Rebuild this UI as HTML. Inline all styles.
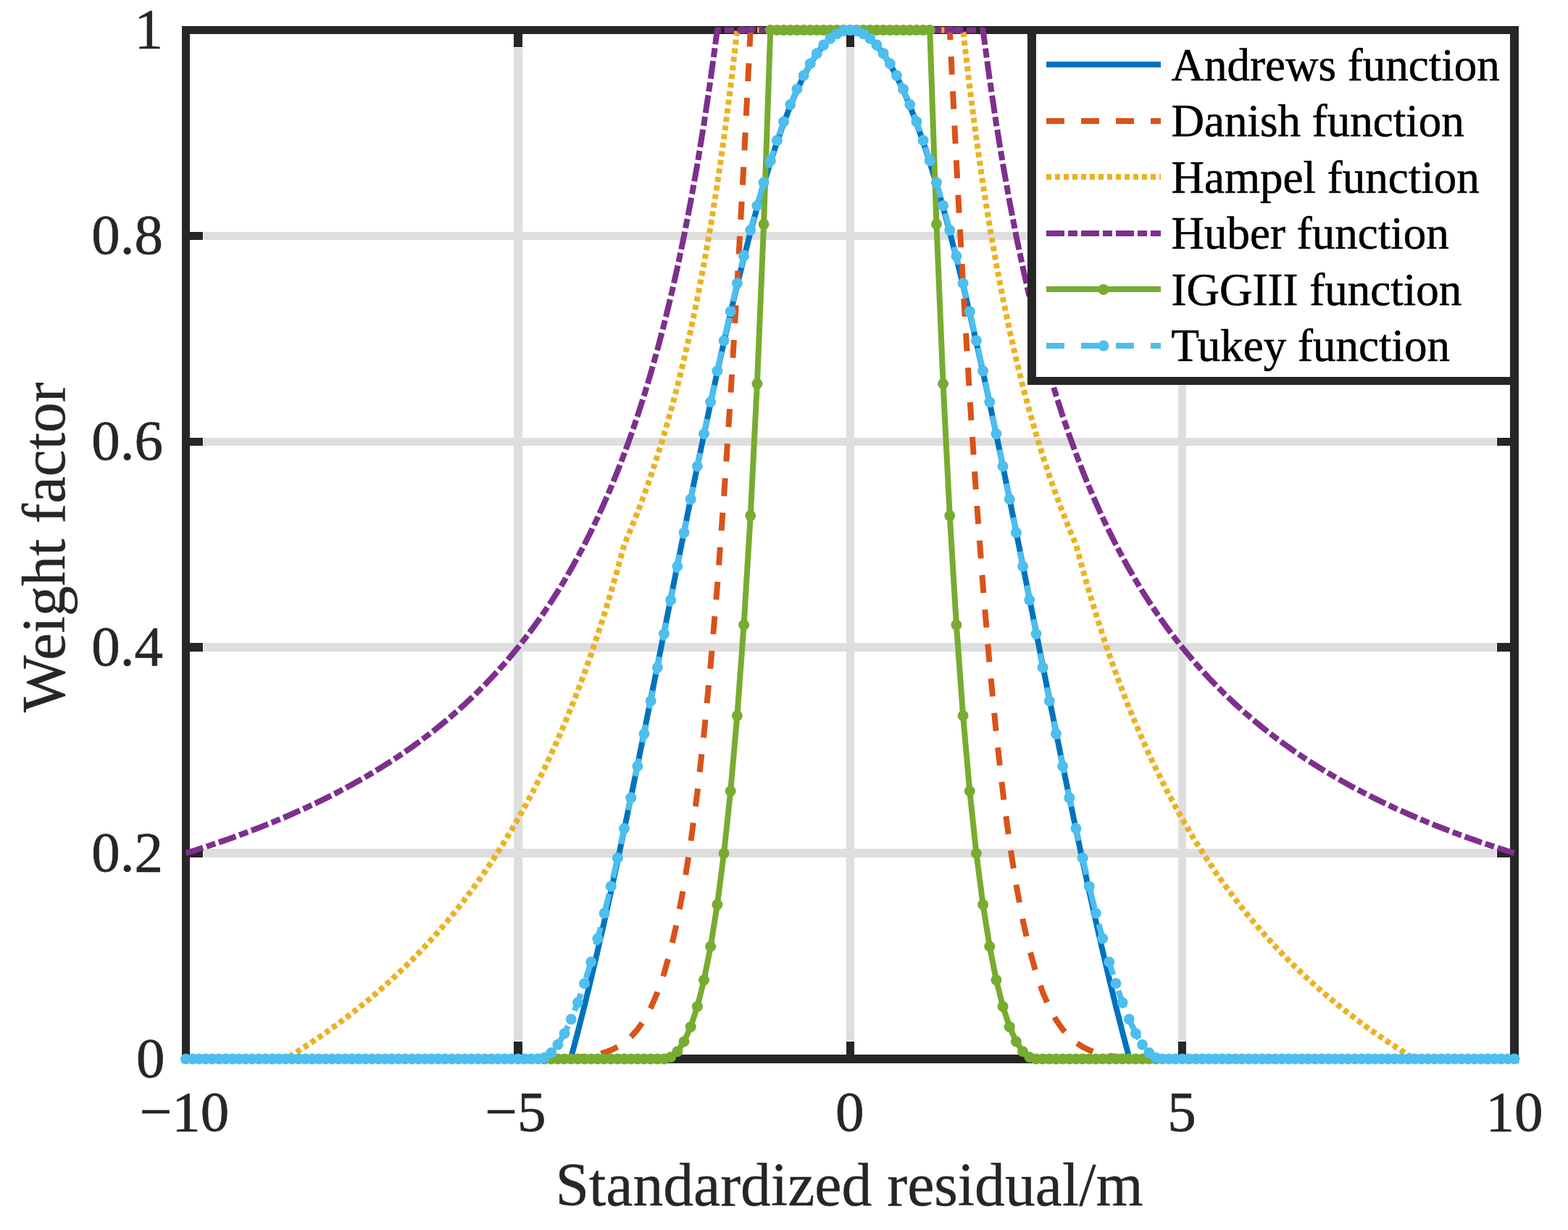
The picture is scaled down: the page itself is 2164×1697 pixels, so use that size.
<!DOCTYPE html>
<html><head><meta charset="utf-8"><title>Weight factor</title>
<style>html,body{margin:0;padding:0;background:#fff;}svg{display:block;}text{font-family:'Liberation Serif','Times New Roman',serif;}</style>
</head><body>
<svg width="2164" height="1697" viewBox="0 0 2164 1697">
<rect width="2164" height="1697" fill="#fff"/>
<path d="M714.88 66V1436M1173.25 66V1436M1631.62 66V1436M281 1177.10H2065M281 893.20H2065M281 609.30H2065M281 325.40H2065" stroke="#DEDEDE" stroke-width="11.5" fill="none" shape-rendering="crispEdges"/>
<path d="M714.88 1461.00V1437.10M714.88 41.50V65.00M1173.25 1461.00V1437.10M1173.25 41.50V65.00M1631.62 1461.00V1437.10M1631.62 41.50V65.00M256.50 1177.10H280.00M2090.00 1177.10H2066.10M256.50 893.20H280.00M2090.00 893.20H2066.10M256.50 609.30H280.00M2090.00 609.30H2066.10M256.50 325.40H280.00M2090.00 325.40H2066.10" stroke="#262626" stroke-width="11.5" fill="none" shape-rendering="crispEdges"/>
<rect x="256.5" y="41.5" width="1833.5" height="1419.5" stroke="#262626" stroke-width="11.5" fill="none" stroke-linejoin="miter" shape-rendering="crispEdges"/>
<polyline points="256.50,1461.00 265.67,1461.00 274.83,1461.00 284.00,1461.00 293.17,1461.00 302.34,1461.00 311.50,1461.00 320.67,1461.00 329.84,1461.00 339.01,1461.00 348.18,1461.00 357.34,1461.00 366.51,1461.00 375.68,1461.00 384.85,1461.00 394.01,1461.00 403.18,1461.00 412.35,1461.00 421.52,1461.00 430.68,1461.00 439.85,1461.00 449.02,1461.00 458.19,1461.00 467.35,1461.00 476.52,1461.00 485.69,1461.00 494.85,1461.00 504.02,1461.00 513.19,1461.00 522.36,1461.00 531.52,1461.00 540.69,1461.00 549.86,1461.00 559.03,1461.00 568.20,1461.00 577.36,1461.00 586.53,1461.00 595.70,1461.00 604.87,1461.00 614.03,1461.00 623.20,1461.00 632.37,1461.00 641.54,1461.00 650.70,1461.00 659.87,1461.00 669.04,1461.00 678.20,1461.00 687.37,1461.00 696.54,1461.00 705.71,1461.00 714.88,1461.00 724.04,1461.00 733.21,1461.00 742.38,1461.00 751.55,1461.00 760.71,1461.00 769.88,1461.00 779.05,1461.00 788.21,1458.77 797.38,1424.13 806.55,1387.98 815.72,1350.38 824.88,1311.44 834.05,1271.25 843.22,1229.91 852.39,1187.54 861.55,1144.25 870.72,1100.15 879.89,1055.37 889.06,1010.03 898.22,964.27 907.39,918.22 916.56,872.01 925.73,825.78 934.89,779.68 944.06,733.84 953.23,688.40 962.40,643.51 971.57,599.29 980.73,555.90 989.90,513.47 999.07,472.13 1008.23,432.02 1017.40,393.27 1026.57,355.99 1035.74,320.31 1044.90,286.36 1054.07,254.23 1063.24,224.03 1072.41,195.86 1081.58,169.82 1090.74,145.99 1099.91,124.46 1109.08,105.28 1118.24,88.53 1127.41,74.26 1136.58,62.52 1145.75,53.35 1154.91,46.77 1164.08,42.82 1173.25,41.50 1182.42,42.82 1191.59,46.77 1200.75,53.35 1209.92,62.52 1219.09,74.26 1228.26,88.53 1237.42,105.28 1246.59,124.46 1255.76,145.99 1264.93,169.82 1274.09,195.86 1283.26,224.03 1292.43,254.23 1301.60,286.36 1310.76,320.31 1319.93,355.99 1329.10,393.27 1338.27,432.02 1347.43,472.13 1356.60,513.47 1365.77,555.90 1374.93,599.29 1384.10,643.51 1393.27,688.40 1402.44,733.84 1411.61,779.68 1420.77,825.78 1429.94,872.01 1439.11,918.22 1448.28,964.27 1457.44,1010.03 1466.61,1055.37 1475.78,1100.15 1484.95,1144.25 1494.11,1187.54 1503.28,1229.91 1512.45,1271.25 1521.62,1311.44 1530.78,1350.38 1539.95,1387.98 1549.12,1424.13 1558.28,1458.77 1567.45,1461.00 1576.62,1461.00 1585.79,1461.00 1594.95,1461.00 1604.12,1461.00 1613.29,1461.00 1622.46,1461.00 1631.62,1461.00 1640.79,1461.00 1649.96,1461.00 1659.13,1461.00 1668.30,1461.00 1677.46,1461.00 1686.63,1461.00 1695.80,1461.00 1704.97,1461.00 1714.13,1461.00 1723.30,1461.00 1732.47,1461.00 1741.63,1461.00 1750.80,1461.00 1759.97,1461.00 1769.14,1461.00 1778.31,1461.00 1787.47,1461.00 1796.64,1461.00 1805.81,1461.00 1814.97,1461.00 1824.14,1461.00 1833.31,1461.00 1842.48,1461.00 1851.64,1461.00 1860.81,1461.00 1869.98,1461.00 1879.15,1461.00 1888.32,1461.00 1897.48,1461.00 1906.65,1461.00 1915.82,1461.00 1924.98,1461.00 1934.15,1461.00 1943.32,1461.00 1952.49,1461.00 1961.66,1461.00 1970.82,1461.00 1979.99,1461.00 1989.16,1461.00 1998.32,1461.00 2007.49,1461.00 2016.66,1461.00 2025.83,1461.00 2034.99,1461.00 2044.16,1461.00 2053.33,1461.00 2062.50,1461.00 2071.66,1461.00 2080.83,1461.00 2090.00,1461.00" fill="none" stroke="#0072BD" stroke-width="8.0" stroke-linejoin="round" stroke-linecap="butt"/>
<polyline points="256.50,1461.00 265.67,1461.00 274.83,1461.00 284.00,1461.00 293.17,1461.00 302.34,1461.00 311.50,1461.00 320.67,1461.00 329.84,1461.00 339.01,1461.00 348.18,1461.00 357.34,1461.00 366.51,1461.00 375.68,1461.00 384.85,1461.00 394.01,1461.00 403.18,1461.00 412.35,1461.00 421.52,1461.00 430.68,1461.00 439.85,1461.00 449.02,1461.00 458.19,1461.00 467.35,1461.00 476.52,1461.00 485.69,1461.00 494.85,1461.00 504.02,1461.00 513.19,1461.00 522.36,1461.00 531.52,1461.00 540.69,1461.00 549.86,1461.00 559.03,1461.00 568.20,1461.00 577.36,1461.00 586.53,1461.00 595.70,1461.00 604.87,1461.00 614.03,1461.00 623.20,1461.00 632.37,1461.00 641.54,1461.00 650.70,1461.00 659.87,1461.00 669.04,1460.99 678.20,1460.99 687.37,1460.99 696.54,1460.98 705.71,1460.96 714.88,1460.94 724.04,1460.91 733.21,1460.86 742.38,1460.79 751.55,1460.68 760.71,1460.52 769.88,1460.29 779.05,1459.96 788.21,1459.48 797.38,1458.80 806.55,1457.85 815.72,1456.53 824.88,1454.70 834.05,1452.21 843.22,1448.84 852.39,1444.33 861.55,1438.35 870.72,1430.49 879.89,1420.27 889.06,1407.11 898.22,1390.33 907.39,1369.14 916.56,1342.65 925.73,1309.88 934.89,1269.74 944.06,1221.09 953.23,1162.71 962.40,1093.42 971.57,1012.03 980.73,917.48 989.90,808.85 999.07,685.42 1008.23,546.79 1017.40,392.92 1026.57,224.20 1035.74,41.50 1044.90,41.50 1054.07,41.50 1063.24,41.50 1072.41,41.50 1081.58,41.50 1090.74,41.50 1099.91,41.50 1109.08,41.50 1118.24,41.50 1127.41,41.50 1136.58,41.50 1145.75,41.50 1154.91,41.50 1164.08,41.50 1173.25,41.50 1182.42,41.50 1191.59,41.50 1200.75,41.50 1209.92,41.50 1219.09,41.50 1228.26,41.50 1237.42,41.50 1246.59,41.50 1255.76,41.50 1264.93,41.50 1274.09,41.50 1283.26,41.50 1292.43,41.50 1301.60,41.50 1310.76,41.50 1319.93,224.20 1329.10,392.92 1338.27,546.79 1347.43,685.42 1356.60,808.85 1365.77,917.48 1374.93,1012.03 1384.10,1093.42 1393.27,1162.71 1402.44,1221.09 1411.61,1269.74 1420.77,1309.88 1429.94,1342.65 1439.11,1369.14 1448.28,1390.33 1457.44,1407.11 1466.61,1420.27 1475.78,1430.49 1484.95,1438.35 1494.11,1444.33 1503.28,1448.84 1512.45,1452.21 1521.62,1454.70 1530.78,1456.53 1539.95,1457.85 1549.12,1458.80 1558.28,1459.48 1567.45,1459.96 1576.62,1460.29 1585.79,1460.52 1594.95,1460.68 1604.12,1460.79 1613.29,1460.86 1622.46,1460.91 1631.62,1460.94 1640.79,1460.96 1649.96,1460.98 1659.13,1460.99 1668.30,1460.99 1677.46,1460.99 1686.63,1461.00 1695.80,1461.00 1704.97,1461.00 1714.13,1461.00 1723.30,1461.00 1732.47,1461.00 1741.63,1461.00 1750.80,1461.00 1759.97,1461.00 1769.14,1461.00 1778.31,1461.00 1787.47,1461.00 1796.64,1461.00 1805.81,1461.00 1814.97,1461.00 1824.14,1461.00 1833.31,1461.00 1842.48,1461.00 1851.64,1461.00 1860.81,1461.00 1869.98,1461.00 1879.15,1461.00 1888.32,1461.00 1897.48,1461.00 1906.65,1461.00 1915.82,1461.00 1924.98,1461.00 1934.15,1461.00 1943.32,1461.00 1952.49,1461.00 1961.66,1461.00 1970.82,1461.00 1979.99,1461.00 1989.16,1461.00 1998.32,1461.00 2007.49,1461.00 2016.66,1461.00 2025.83,1461.00 2034.99,1461.00 2044.16,1461.00 2053.33,1461.00 2062.50,1461.00 2071.66,1461.00 2080.83,1461.00 2090.00,1461.00" fill="none" stroke="#D95319" stroke-width="8.0" stroke-dasharray="24.885 22.894" stroke-linejoin="round" stroke-linecap="butt"/>
<polyline points="256.50,1461.00 265.67,1461.00 274.83,1461.00 284.00,1461.00 293.17,1461.00 302.34,1461.00 311.50,1461.00 320.67,1461.00 329.84,1461.00 339.01,1461.00 348.18,1461.00 357.34,1461.00 366.51,1461.00 375.68,1461.00 384.85,1461.00 394.01,1461.00 403.18,1455.37 412.35,1449.60 421.52,1443.69 430.68,1437.63 439.85,1431.43 449.02,1425.06 458.19,1418.54 467.35,1411.84 476.52,1404.97 485.69,1397.91 494.85,1390.66 504.02,1383.22 513.19,1375.57 522.36,1367.70 531.52,1359.61 540.69,1351.28 549.86,1342.71 559.03,1333.88 568.20,1324.79 577.36,1315.41 586.53,1305.74 595.70,1295.77 604.87,1285.47 614.03,1274.84 623.20,1263.85 632.37,1252.49 641.54,1240.73 650.70,1228.57 659.87,1215.97 669.04,1202.91 678.20,1189.37 687.37,1175.31 696.54,1160.72 705.71,1145.56 714.88,1129.78 724.04,1113.37 733.21,1096.27 742.38,1078.44 751.55,1059.84 760.71,1040.41 769.88,1020.09 779.05,998.84 788.21,976.57 797.38,953.21 806.55,928.69 815.72,902.91 824.88,875.77 834.05,847.16 843.22,816.97 852.39,785.05 861.55,751.25 870.72,729.74 879.89,706.89 889.06,682.56 898.22,656.62 907.39,628.88 916.56,599.16 925.73,567.24 934.89,532.87 944.06,495.74 953.23,455.52 962.40,411.80 971.57,364.11 980.73,311.88 989.90,254.42 999.07,190.92 1008.23,120.36 1017.40,41.50 1026.57,41.50 1035.74,41.50 1044.90,41.50 1054.07,41.50 1063.24,41.50 1072.41,41.50 1081.58,41.50 1090.74,41.50 1099.91,41.50 1109.08,41.50 1118.24,41.50 1127.41,41.50 1136.58,41.50 1145.75,41.50 1154.91,41.50 1164.08,41.50 1173.25,41.50 1182.42,41.50 1191.59,41.50 1200.75,41.50 1209.92,41.50 1219.09,41.50 1228.26,41.50 1237.42,41.50 1246.59,41.50 1255.76,41.50 1264.93,41.50 1274.09,41.50 1283.26,41.50 1292.43,41.50 1301.60,41.50 1310.76,41.50 1319.93,41.50 1329.10,41.50 1338.27,120.36 1347.43,190.92 1356.60,254.42 1365.77,311.88 1374.93,364.11 1384.10,411.80 1393.27,455.52 1402.44,495.74 1411.61,532.87 1420.77,567.24 1429.94,599.16 1439.11,628.88 1448.28,656.62 1457.44,682.56 1466.61,706.89 1475.78,729.74 1484.95,751.25 1494.11,785.05 1503.28,816.97 1512.45,847.16 1521.62,875.77 1530.78,902.91 1539.95,928.69 1549.12,953.21 1558.28,976.57 1567.45,998.84 1576.62,1020.09 1585.79,1040.41 1594.95,1059.84 1604.12,1078.44 1613.29,1096.27 1622.46,1113.37 1631.62,1129.78 1640.79,1145.56 1649.96,1160.72 1659.13,1175.31 1668.30,1189.37 1677.46,1202.91 1686.63,1215.97 1695.80,1228.57 1704.97,1240.73 1714.13,1252.49 1723.30,1263.85 1732.47,1274.84 1741.63,1285.47 1750.80,1295.77 1759.97,1305.74 1769.14,1315.41 1778.31,1324.79 1787.47,1333.88 1796.64,1342.71 1805.81,1351.28 1814.97,1359.61 1824.14,1367.70 1833.31,1375.57 1842.48,1383.22 1851.64,1390.66 1860.81,1397.91 1869.98,1404.97 1879.15,1411.84 1888.32,1418.54 1897.48,1425.06 1906.65,1431.43 1915.82,1437.63 1924.98,1443.69 1934.15,1449.60 1943.32,1455.37 1952.49,1461.00 1961.66,1461.00 1970.82,1461.00 1979.99,1461.00 1989.16,1461.00 1998.32,1461.00 2007.49,1461.00 2016.66,1461.00 2025.83,1461.00 2034.99,1461.00 2044.16,1461.00 2053.33,1461.00 2062.50,1461.00 2071.66,1461.00 2080.83,1461.00 2090.00,1461.00" fill="none" stroke="#EDB120" stroke-width="8.0" stroke-dasharray="6.968 4.977" stroke-linejoin="round" stroke-linecap="butt"/>
<polyline points="256.50,1177.10 265.67,1174.23 274.83,1171.31 284.00,1168.32 293.17,1165.27 302.34,1162.16 311.50,1158.98 320.67,1155.73 329.84,1152.41 339.01,1149.02 348.18,1145.56 357.34,1142.01 366.51,1138.39 375.68,1134.68 384.85,1130.88 394.01,1127.00 403.18,1123.02 412.35,1118.95 421.52,1114.78 430.68,1110.51 439.85,1106.12 449.02,1101.63 458.19,1097.03 467.35,1092.30 476.52,1087.45 485.69,1082.47 494.85,1077.35 504.02,1072.10 513.19,1066.69 522.36,1061.14 531.52,1055.43 540.69,1049.55 549.86,1043.50 559.03,1037.27 568.20,1030.85 577.36,1024.23 586.53,1017.41 595.70,1010.37 604.87,1003.10 614.03,995.59 623.20,987.83 632.37,979.81 641.54,971.52 650.70,962.93 659.87,954.04 669.04,944.82 678.20,935.26 687.37,925.34 696.54,915.04 705.71,904.33 714.88,893.20 724.04,881.61 733.21,869.54 742.38,856.96 751.55,843.83 760.71,830.11 769.88,815.77 779.05,800.77 788.21,785.05 797.38,768.56 806.55,751.25 815.72,733.05 824.88,713.89 834.05,693.70 843.22,672.39 852.39,649.86 861.55,626.00 870.72,600.70 879.89,573.81 889.06,545.19 898.22,514.67 907.39,482.03 916.56,447.07 925.73,409.52 934.89,369.08 944.06,325.40 953.23,278.08 962.40,226.65 971.57,170.55 980.73,109.10 989.90,41.50 999.07,41.50 1008.23,41.50 1017.40,41.50 1026.57,41.50 1035.74,41.50 1044.90,41.50 1054.07,41.50 1063.24,41.50 1072.41,41.50 1081.58,41.50 1090.74,41.50 1099.91,41.50 1109.08,41.50 1118.24,41.50 1127.41,41.50 1136.58,41.50 1145.75,41.50 1154.91,41.50 1164.08,41.50 1173.25,41.50 1182.42,41.50 1191.59,41.50 1200.75,41.50 1209.92,41.50 1219.09,41.50 1228.26,41.50 1237.42,41.50 1246.59,41.50 1255.76,41.50 1264.93,41.50 1274.09,41.50 1283.26,41.50 1292.43,41.50 1301.60,41.50 1310.76,41.50 1319.93,41.50 1329.10,41.50 1338.27,41.50 1347.43,41.50 1356.60,41.50 1365.77,109.10 1374.93,170.55 1384.10,226.65 1393.27,278.08 1402.44,325.40 1411.61,369.08 1420.77,409.52 1429.94,447.07 1439.11,482.03 1448.28,514.67 1457.44,545.19 1466.61,573.81 1475.78,600.70 1484.95,626.00 1494.11,649.86 1503.28,672.39 1512.45,693.70 1521.62,713.89 1530.78,733.05 1539.95,751.25 1549.12,768.56 1558.28,785.05 1567.45,800.77 1576.62,815.77 1585.79,830.11 1594.95,843.83 1604.12,856.96 1613.29,869.54 1622.46,881.61 1631.62,893.20 1640.79,904.33 1649.96,915.04 1659.13,925.34 1668.30,935.26 1677.46,944.82 1686.63,954.04 1695.80,962.93 1704.97,971.52 1714.13,979.81 1723.30,987.83 1732.47,995.59 1741.63,1003.10 1750.80,1010.37 1759.97,1017.41 1769.14,1024.23 1778.31,1030.85 1787.47,1037.27 1796.64,1043.50 1805.81,1049.55 1814.97,1055.43 1824.14,1061.14 1833.31,1066.69 1842.48,1072.10 1851.64,1077.35 1860.81,1082.47 1869.98,1087.45 1879.15,1092.30 1888.32,1097.03 1897.48,1101.63 1906.65,1106.12 1915.82,1110.51 1924.98,1114.78 1934.15,1118.95 1943.32,1123.02 1952.49,1127.00 1961.66,1130.88 1970.82,1134.68 1979.99,1138.39 1989.16,1142.01 1998.32,1145.56 2007.49,1149.02 2016.66,1152.41 2025.83,1155.73 2034.99,1158.98 2044.16,1162.16 2053.33,1165.27 2062.50,1168.32 2071.66,1171.31 2080.83,1174.23 2090.00,1177.10" fill="none" stroke="#7E2F8E" stroke-width="8.0" stroke-dasharray="24.885 4.977 12.940 4.977" stroke-linejoin="round" stroke-linecap="butt"/>
<polyline points="256.50,1461.00 265.67,1461.00 274.83,1461.00 284.00,1461.00 293.17,1461.00 302.34,1461.00 311.50,1461.00 320.67,1461.00 329.84,1461.00 339.01,1461.00 348.18,1461.00 357.34,1461.00 366.51,1461.00 375.68,1461.00 384.85,1461.00 394.01,1461.00 403.18,1461.00 412.35,1461.00 421.52,1461.00 430.68,1461.00 439.85,1461.00 449.02,1461.00 458.19,1461.00 467.35,1461.00 476.52,1461.00 485.69,1461.00 494.85,1461.00 504.02,1461.00 513.19,1461.00 522.36,1461.00 531.52,1461.00 540.69,1461.00 549.86,1461.00 559.03,1461.00 568.20,1461.00 577.36,1461.00 586.53,1461.00 595.70,1461.00 604.87,1461.00 614.03,1461.00 623.20,1461.00 632.37,1461.00 641.54,1461.00 650.70,1461.00 659.87,1461.00 669.04,1461.00 678.20,1461.00 687.37,1461.00 696.54,1461.00 705.71,1461.00 714.88,1461.00 724.04,1461.00 733.21,1461.00 742.38,1461.00 751.55,1461.00 760.71,1461.00 769.88,1461.00 779.05,1461.00 788.21,1461.00 797.38,1461.00 806.55,1461.00 815.72,1461.00 824.88,1461.00 834.05,1461.00 843.22,1461.00 852.39,1461.00 861.55,1461.00 870.72,1461.00 879.89,1461.00 889.06,1461.00 898.22,1461.00 907.39,1461.00 916.56,1461.00 925.73,1458.54 934.89,1450.76 944.06,1437.05 953.23,1416.64 962.40,1388.67 971.57,1352.12 980.73,1305.74 989.90,1248.08 999.07,1177.33 1008.23,1091.34 1017.40,987.40 1026.57,862.15 1035.74,711.33 1044.90,529.45 1054.07,309.36 1063.24,41.50 1072.41,41.50 1081.58,41.50 1090.74,41.50 1099.91,41.50 1109.08,41.50 1118.24,41.50 1127.41,41.50 1136.58,41.50 1145.75,41.50 1154.91,41.50 1164.08,41.50 1173.25,41.50 1182.42,41.50 1191.59,41.50 1200.75,41.50 1209.92,41.50 1219.09,41.50 1228.26,41.50 1237.42,41.50 1246.59,41.50 1255.76,41.50 1264.93,41.50 1274.09,41.50 1283.26,41.50 1292.43,309.36 1301.60,529.45 1310.76,711.33 1319.93,862.15 1329.10,987.40 1338.27,1091.34 1347.43,1177.33 1356.60,1248.08 1365.77,1305.74 1374.93,1352.12 1384.10,1388.67 1393.27,1416.64 1402.44,1437.05 1411.61,1450.76 1420.77,1458.54 1429.94,1461.00 1439.11,1461.00 1448.28,1461.00 1457.44,1461.00 1466.61,1461.00 1475.78,1461.00 1484.95,1461.00 1494.11,1461.00 1503.28,1461.00 1512.45,1461.00 1521.62,1461.00 1530.78,1461.00 1539.95,1461.00 1549.12,1461.00 1558.28,1461.00 1567.45,1461.00 1576.62,1461.00 1585.79,1461.00 1594.95,1461.00 1604.12,1461.00 1613.29,1461.00 1622.46,1461.00 1631.62,1461.00 1640.79,1461.00 1649.96,1461.00 1659.13,1461.00 1668.30,1461.00 1677.46,1461.00 1686.63,1461.00 1695.80,1461.00 1704.97,1461.00 1714.13,1461.00 1723.30,1461.00 1732.47,1461.00 1741.63,1461.00 1750.80,1461.00 1759.97,1461.00 1769.14,1461.00 1778.31,1461.00 1787.47,1461.00 1796.64,1461.00 1805.81,1461.00 1814.97,1461.00 1824.14,1461.00 1833.31,1461.00 1842.48,1461.00 1851.64,1461.00 1860.81,1461.00 1869.98,1461.00 1879.15,1461.00 1888.32,1461.00 1897.48,1461.00 1906.65,1461.00 1915.82,1461.00 1924.98,1461.00 1934.15,1461.00 1943.32,1461.00 1952.49,1461.00 1961.66,1461.00 1970.82,1461.00 1979.99,1461.00 1989.16,1461.00 1998.32,1461.00 2007.49,1461.00 2016.66,1461.00 2025.83,1461.00 2034.99,1461.00 2044.16,1461.00 2053.33,1461.00 2062.50,1461.00 2071.66,1461.00 2080.83,1461.00 2090.00,1461.00" fill="none" stroke="#77AC30" stroke-width="8.0" stroke-linejoin="round" stroke-linecap="butt"/>
<path d="M744.05 1461.00a7.5 7.5 0 1 0 15.0 0a7.5 7.5 0 1 0 -15.0 0M753.21 1461.00a7.5 7.5 0 1 0 15.0 0a7.5 7.5 0 1 0 -15.0 0M762.38 1461.00a7.5 7.5 0 1 0 15.0 0a7.5 7.5 0 1 0 -15.0 0M771.55 1461.00a7.5 7.5 0 1 0 15.0 0a7.5 7.5 0 1 0 -15.0 0M780.71 1461.00a7.5 7.5 0 1 0 15.0 0a7.5 7.5 0 1 0 -15.0 0M789.88 1461.00a7.5 7.5 0 1 0 15.0 0a7.5 7.5 0 1 0 -15.0 0M799.05 1461.00a7.5 7.5 0 1 0 15.0 0a7.5 7.5 0 1 0 -15.0 0M808.22 1461.00a7.5 7.5 0 1 0 15.0 0a7.5 7.5 0 1 0 -15.0 0M817.38 1461.00a7.5 7.5 0 1 0 15.0 0a7.5 7.5 0 1 0 -15.0 0M826.55 1461.00a7.5 7.5 0 1 0 15.0 0a7.5 7.5 0 1 0 -15.0 0M835.72 1461.00a7.5 7.5 0 1 0 15.0 0a7.5 7.5 0 1 0 -15.0 0M844.89 1461.00a7.5 7.5 0 1 0 15.0 0a7.5 7.5 0 1 0 -15.0 0M854.05 1461.00a7.5 7.5 0 1 0 15.0 0a7.5 7.5 0 1 0 -15.0 0M863.22 1461.00a7.5 7.5 0 1 0 15.0 0a7.5 7.5 0 1 0 -15.0 0M872.39 1461.00a7.5 7.5 0 1 0 15.0 0a7.5 7.5 0 1 0 -15.0 0M881.56 1461.00a7.5 7.5 0 1 0 15.0 0a7.5 7.5 0 1 0 -15.0 0M890.72 1461.00a7.5 7.5 0 1 0 15.0 0a7.5 7.5 0 1 0 -15.0 0M899.89 1461.00a7.5 7.5 0 1 0 15.0 0a7.5 7.5 0 1 0 -15.0 0M909.06 1461.00a7.5 7.5 0 1 0 15.0 0a7.5 7.5 0 1 0 -15.0 0M918.23 1458.54a7.5 7.5 0 1 0 15.0 0a7.5 7.5 0 1 0 -15.0 0M927.39 1450.76a7.5 7.5 0 1 0 15.0 0a7.5 7.5 0 1 0 -15.0 0M936.56 1437.05a7.5 7.5 0 1 0 15.0 0a7.5 7.5 0 1 0 -15.0 0M945.73 1416.64a7.5 7.5 0 1 0 15.0 0a7.5 7.5 0 1 0 -15.0 0M954.90 1388.67a7.5 7.5 0 1 0 15.0 0a7.5 7.5 0 1 0 -15.0 0M964.07 1352.12a7.5 7.5 0 1 0 15.0 0a7.5 7.5 0 1 0 -15.0 0M973.23 1305.74a7.5 7.5 0 1 0 15.0 0a7.5 7.5 0 1 0 -15.0 0M982.40 1248.08a7.5 7.5 0 1 0 15.0 0a7.5 7.5 0 1 0 -15.0 0M991.57 1177.33a7.5 7.5 0 1 0 15.0 0a7.5 7.5 0 1 0 -15.0 0M1000.73 1091.34a7.5 7.5 0 1 0 15.0 0a7.5 7.5 0 1 0 -15.0 0M1009.90 987.40a7.5 7.5 0 1 0 15.0 0a7.5 7.5 0 1 0 -15.0 0M1019.07 862.15a7.5 7.5 0 1 0 15.0 0a7.5 7.5 0 1 0 -15.0 0M1028.24 711.33a7.5 7.5 0 1 0 15.0 0a7.5 7.5 0 1 0 -15.0 0M1037.40 529.45a7.5 7.5 0 1 0 15.0 0a7.5 7.5 0 1 0 -15.0 0M1046.57 309.36a7.5 7.5 0 1 0 15.0 0a7.5 7.5 0 1 0 -15.0 0M1055.74 41.50a7.5 7.5 0 1 0 15.0 0a7.5 7.5 0 1 0 -15.0 0M1064.91 41.50a7.5 7.5 0 1 0 15.0 0a7.5 7.5 0 1 0 -15.0 0M1074.08 41.50a7.5 7.5 0 1 0 15.0 0a7.5 7.5 0 1 0 -15.0 0M1083.24 41.50a7.5 7.5 0 1 0 15.0 0a7.5 7.5 0 1 0 -15.0 0M1092.41 41.50a7.5 7.5 0 1 0 15.0 0a7.5 7.5 0 1 0 -15.0 0M1101.58 41.50a7.5 7.5 0 1 0 15.0 0a7.5 7.5 0 1 0 -15.0 0M1110.74 41.50a7.5 7.5 0 1 0 15.0 0a7.5 7.5 0 1 0 -15.0 0M1119.91 41.50a7.5 7.5 0 1 0 15.0 0a7.5 7.5 0 1 0 -15.0 0M1129.08 41.50a7.5 7.5 0 1 0 15.0 0a7.5 7.5 0 1 0 -15.0 0M1138.25 41.50a7.5 7.5 0 1 0 15.0 0a7.5 7.5 0 1 0 -15.0 0M1147.41 41.50a7.5 7.5 0 1 0 15.0 0a7.5 7.5 0 1 0 -15.0 0M1156.58 41.50a7.5 7.5 0 1 0 15.0 0a7.5 7.5 0 1 0 -15.0 0M1165.75 41.50a7.5 7.5 0 1 0 15.0 0a7.5 7.5 0 1 0 -15.0 0M1174.92 41.50a7.5 7.5 0 1 0 15.0 0a7.5 7.5 0 1 0 -15.0 0M1184.09 41.50a7.5 7.5 0 1 0 15.0 0a7.5 7.5 0 1 0 -15.0 0M1193.25 41.50a7.5 7.5 0 1 0 15.0 0a7.5 7.5 0 1 0 -15.0 0M1202.42 41.50a7.5 7.5 0 1 0 15.0 0a7.5 7.5 0 1 0 -15.0 0M1211.59 41.50a7.5 7.5 0 1 0 15.0 0a7.5 7.5 0 1 0 -15.0 0M1220.76 41.50a7.5 7.5 0 1 0 15.0 0a7.5 7.5 0 1 0 -15.0 0M1229.92 41.50a7.5 7.5 0 1 0 15.0 0a7.5 7.5 0 1 0 -15.0 0M1239.09 41.50a7.5 7.5 0 1 0 15.0 0a7.5 7.5 0 1 0 -15.0 0M1248.26 41.50a7.5 7.5 0 1 0 15.0 0a7.5 7.5 0 1 0 -15.0 0M1257.43 41.50a7.5 7.5 0 1 0 15.0 0a7.5 7.5 0 1 0 -15.0 0M1266.59 41.50a7.5 7.5 0 1 0 15.0 0a7.5 7.5 0 1 0 -15.0 0M1275.76 41.50a7.5 7.5 0 1 0 15.0 0a7.5 7.5 0 1 0 -15.0 0M1284.93 309.36a7.5 7.5 0 1 0 15.0 0a7.5 7.5 0 1 0 -15.0 0M1294.10 529.45a7.5 7.5 0 1 0 15.0 0a7.5 7.5 0 1 0 -15.0 0M1303.26 711.33a7.5 7.5 0 1 0 15.0 0a7.5 7.5 0 1 0 -15.0 0M1312.43 862.15a7.5 7.5 0 1 0 15.0 0a7.5 7.5 0 1 0 -15.0 0M1321.60 987.40a7.5 7.5 0 1 0 15.0 0a7.5 7.5 0 1 0 -15.0 0M1330.77 1091.34a7.5 7.5 0 1 0 15.0 0a7.5 7.5 0 1 0 -15.0 0M1339.93 1177.33a7.5 7.5 0 1 0 15.0 0a7.5 7.5 0 1 0 -15.0 0M1349.10 1248.08a7.5 7.5 0 1 0 15.0 0a7.5 7.5 0 1 0 -15.0 0M1358.27 1305.74a7.5 7.5 0 1 0 15.0 0a7.5 7.5 0 1 0 -15.0 0M1367.43 1352.12a7.5 7.5 0 1 0 15.0 0a7.5 7.5 0 1 0 -15.0 0M1376.60 1388.67a7.5 7.5 0 1 0 15.0 0a7.5 7.5 0 1 0 -15.0 0M1385.77 1416.64a7.5 7.5 0 1 0 15.0 0a7.5 7.5 0 1 0 -15.0 0M1394.94 1437.05a7.5 7.5 0 1 0 15.0 0a7.5 7.5 0 1 0 -15.0 0M1404.11 1450.76a7.5 7.5 0 1 0 15.0 0a7.5 7.5 0 1 0 -15.0 0M1413.27 1458.54a7.5 7.5 0 1 0 15.0 0a7.5 7.5 0 1 0 -15.0 0M1422.44 1461.00a7.5 7.5 0 1 0 15.0 0a7.5 7.5 0 1 0 -15.0 0M1431.61 1461.00a7.5 7.5 0 1 0 15.0 0a7.5 7.5 0 1 0 -15.0 0M1440.78 1461.00a7.5 7.5 0 1 0 15.0 0a7.5 7.5 0 1 0 -15.0 0M1449.94 1461.00a7.5 7.5 0 1 0 15.0 0a7.5 7.5 0 1 0 -15.0 0M1459.11 1461.00a7.5 7.5 0 1 0 15.0 0a7.5 7.5 0 1 0 -15.0 0M1468.28 1461.00a7.5 7.5 0 1 0 15.0 0a7.5 7.5 0 1 0 -15.0 0M1477.45 1461.00a7.5 7.5 0 1 0 15.0 0a7.5 7.5 0 1 0 -15.0 0M1486.61 1461.00a7.5 7.5 0 1 0 15.0 0a7.5 7.5 0 1 0 -15.0 0M1495.78 1461.00a7.5 7.5 0 1 0 15.0 0a7.5 7.5 0 1 0 -15.0 0M1504.95 1461.00a7.5 7.5 0 1 0 15.0 0a7.5 7.5 0 1 0 -15.0 0M1514.12 1461.00a7.5 7.5 0 1 0 15.0 0a7.5 7.5 0 1 0 -15.0 0M1523.28 1461.00a7.5 7.5 0 1 0 15.0 0a7.5 7.5 0 1 0 -15.0 0M1532.45 1461.00a7.5 7.5 0 1 0 15.0 0a7.5 7.5 0 1 0 -15.0 0M1541.62 1461.00a7.5 7.5 0 1 0 15.0 0a7.5 7.5 0 1 0 -15.0 0M1550.78 1461.00a7.5 7.5 0 1 0 15.0 0a7.5 7.5 0 1 0 -15.0 0M1559.95 1461.00a7.5 7.5 0 1 0 15.0 0a7.5 7.5 0 1 0 -15.0 0M1569.12 1461.00a7.5 7.5 0 1 0 15.0 0a7.5 7.5 0 1 0 -15.0 0M1578.29 1461.00a7.5 7.5 0 1 0 15.0 0a7.5 7.5 0 1 0 -15.0 0M1587.45 1461.00a7.5 7.5 0 1 0 15.0 0a7.5 7.5 0 1 0 -15.0 0" fill="#77AC30"/>
<polyline points="256.50,1461.00 265.67,1461.00 274.83,1461.00 284.00,1461.00 293.17,1461.00 302.34,1461.00 311.50,1461.00 320.67,1461.00 329.84,1461.00 339.01,1461.00 348.18,1461.00 357.34,1461.00 366.51,1461.00 375.68,1461.00 384.85,1461.00 394.01,1461.00 403.18,1461.00 412.35,1461.00 421.52,1461.00 430.68,1461.00 439.85,1461.00 449.02,1461.00 458.19,1461.00 467.35,1461.00 476.52,1461.00 485.69,1461.00 494.85,1461.00 504.02,1461.00 513.19,1461.00 522.36,1461.00 531.52,1461.00 540.69,1461.00 549.86,1461.00 559.03,1461.00 568.20,1461.00 577.36,1461.00 586.53,1461.00 595.70,1461.00 604.87,1461.00 614.03,1461.00 623.20,1461.00 632.37,1461.00 641.54,1461.00 650.70,1461.00 659.87,1461.00 669.04,1461.00 678.20,1461.00 687.37,1461.00 696.54,1461.00 705.71,1461.00 714.88,1461.00 724.04,1461.00 733.21,1461.00 742.38,1461.00 751.55,1459.16 760.71,1452.49 769.88,1441.25 779.05,1425.74 788.21,1406.29 797.38,1383.18 806.55,1356.72 815.72,1327.18 824.88,1294.86 834.05,1260.01 843.22,1222.91 852.39,1183.81 861.55,1142.97 870.72,1100.63 879.89,1057.03 889.06,1012.39 898.22,966.93 907.39,920.89 916.56,874.45 925.73,827.83 934.89,781.22 944.06,734.80 953.23,688.77 962.40,643.28 971.57,598.50 980.73,554.60 989.90,511.73 999.07,470.03 1008.23,429.64 1017.40,390.70 1026.57,353.31 1035.74,317.61 1044.90,283.70 1054.07,251.68 1063.24,221.65 1072.41,193.69 1081.58,167.90 1090.74,144.34 1099.91,123.07 1109.08,104.17 1118.24,87.68 1127.41,73.65 1136.58,62.12 1145.75,53.12 1154.91,46.67 1164.08,42.79 1173.25,41.50 1182.42,42.79 1191.59,46.67 1200.75,53.12 1209.92,62.12 1219.09,73.65 1228.26,87.68 1237.42,104.17 1246.59,123.07 1255.76,144.34 1264.93,167.90 1274.09,193.69 1283.26,221.65 1292.43,251.68 1301.60,283.70 1310.76,317.61 1319.93,353.31 1329.10,390.70 1338.27,429.64 1347.43,470.03 1356.60,511.73 1365.77,554.60 1374.93,598.50 1384.10,643.28 1393.27,688.77 1402.44,734.80 1411.61,781.22 1420.77,827.83 1429.94,874.45 1439.11,920.89 1448.28,966.93 1457.44,1012.39 1466.61,1057.03 1475.78,1100.63 1484.95,1142.97 1494.11,1183.81 1503.28,1222.91 1512.45,1260.01 1521.62,1294.86 1530.78,1327.18 1539.95,1356.72 1549.12,1383.18 1558.28,1406.29 1567.45,1425.74 1576.62,1441.25 1585.79,1452.49 1594.95,1459.16 1604.12,1461.00 1613.29,1461.00 1622.46,1461.00 1631.62,1461.00 1640.79,1461.00 1649.96,1461.00 1659.13,1461.00 1668.30,1461.00 1677.46,1461.00 1686.63,1461.00 1695.80,1461.00 1704.97,1461.00 1714.13,1461.00 1723.30,1461.00 1732.47,1461.00 1741.63,1461.00 1750.80,1461.00 1759.97,1461.00 1769.14,1461.00 1778.31,1461.00 1787.47,1461.00 1796.64,1461.00 1805.81,1461.00 1814.97,1461.00 1824.14,1461.00 1833.31,1461.00 1842.48,1461.00 1851.64,1461.00 1860.81,1461.00 1869.98,1461.00 1879.15,1461.00 1888.32,1461.00 1897.48,1461.00 1906.65,1461.00 1915.82,1461.00 1924.98,1461.00 1934.15,1461.00 1943.32,1461.00 1952.49,1461.00 1961.66,1461.00 1970.82,1461.00 1979.99,1461.00 1989.16,1461.00 1998.32,1461.00 2007.49,1461.00 2016.66,1461.00 2025.83,1461.00 2034.99,1461.00 2044.16,1461.00 2053.33,1461.00 2062.50,1461.00 2071.66,1461.00 2080.83,1461.00 2090.00,1461.00" fill="none" stroke="#4DBEEE" stroke-width="8.0" stroke-dasharray="24.885 22.894" stroke-linejoin="round" stroke-linecap="butt"/>
<path d="M249.00 1461.00a7.5 7.5 0 1 0 15.0 0a7.5 7.5 0 1 0 -15.0 0M258.17 1461.00a7.5 7.5 0 1 0 15.0 0a7.5 7.5 0 1 0 -15.0 0M267.33 1461.00a7.5 7.5 0 1 0 15.0 0a7.5 7.5 0 1 0 -15.0 0M276.50 1461.00a7.5 7.5 0 1 0 15.0 0a7.5 7.5 0 1 0 -15.0 0M285.67 1461.00a7.5 7.5 0 1 0 15.0 0a7.5 7.5 0 1 0 -15.0 0M294.84 1461.00a7.5 7.5 0 1 0 15.0 0a7.5 7.5 0 1 0 -15.0 0M304.00 1461.00a7.5 7.5 0 1 0 15.0 0a7.5 7.5 0 1 0 -15.0 0M313.17 1461.00a7.5 7.5 0 1 0 15.0 0a7.5 7.5 0 1 0 -15.0 0M322.34 1461.00a7.5 7.5 0 1 0 15.0 0a7.5 7.5 0 1 0 -15.0 0M331.51 1461.00a7.5 7.5 0 1 0 15.0 0a7.5 7.5 0 1 0 -15.0 0M340.68 1461.00a7.5 7.5 0 1 0 15.0 0a7.5 7.5 0 1 0 -15.0 0M349.84 1461.00a7.5 7.5 0 1 0 15.0 0a7.5 7.5 0 1 0 -15.0 0M359.01 1461.00a7.5 7.5 0 1 0 15.0 0a7.5 7.5 0 1 0 -15.0 0M368.18 1461.00a7.5 7.5 0 1 0 15.0 0a7.5 7.5 0 1 0 -15.0 0M377.35 1461.00a7.5 7.5 0 1 0 15.0 0a7.5 7.5 0 1 0 -15.0 0M386.51 1461.00a7.5 7.5 0 1 0 15.0 0a7.5 7.5 0 1 0 -15.0 0M395.68 1461.00a7.5 7.5 0 1 0 15.0 0a7.5 7.5 0 1 0 -15.0 0M404.85 1461.00a7.5 7.5 0 1 0 15.0 0a7.5 7.5 0 1 0 -15.0 0M414.02 1461.00a7.5 7.5 0 1 0 15.0 0a7.5 7.5 0 1 0 -15.0 0M423.18 1461.00a7.5 7.5 0 1 0 15.0 0a7.5 7.5 0 1 0 -15.0 0M432.35 1461.00a7.5 7.5 0 1 0 15.0 0a7.5 7.5 0 1 0 -15.0 0M441.52 1461.00a7.5 7.5 0 1 0 15.0 0a7.5 7.5 0 1 0 -15.0 0M450.69 1461.00a7.5 7.5 0 1 0 15.0 0a7.5 7.5 0 1 0 -15.0 0M459.85 1461.00a7.5 7.5 0 1 0 15.0 0a7.5 7.5 0 1 0 -15.0 0M469.02 1461.00a7.5 7.5 0 1 0 15.0 0a7.5 7.5 0 1 0 -15.0 0M478.19 1461.00a7.5 7.5 0 1 0 15.0 0a7.5 7.5 0 1 0 -15.0 0M487.35 1461.00a7.5 7.5 0 1 0 15.0 0a7.5 7.5 0 1 0 -15.0 0M496.52 1461.00a7.5 7.5 0 1 0 15.0 0a7.5 7.5 0 1 0 -15.0 0M505.69 1461.00a7.5 7.5 0 1 0 15.0 0a7.5 7.5 0 1 0 -15.0 0M514.86 1461.00a7.5 7.5 0 1 0 15.0 0a7.5 7.5 0 1 0 -15.0 0M524.02 1461.00a7.5 7.5 0 1 0 15.0 0a7.5 7.5 0 1 0 -15.0 0M533.19 1461.00a7.5 7.5 0 1 0 15.0 0a7.5 7.5 0 1 0 -15.0 0M542.36 1461.00a7.5 7.5 0 1 0 15.0 0a7.5 7.5 0 1 0 -15.0 0M551.53 1461.00a7.5 7.5 0 1 0 15.0 0a7.5 7.5 0 1 0 -15.0 0M560.70 1461.00a7.5 7.5 0 1 0 15.0 0a7.5 7.5 0 1 0 -15.0 0M569.86 1461.00a7.5 7.5 0 1 0 15.0 0a7.5 7.5 0 1 0 -15.0 0M579.03 1461.00a7.5 7.5 0 1 0 15.0 0a7.5 7.5 0 1 0 -15.0 0M588.20 1461.00a7.5 7.5 0 1 0 15.0 0a7.5 7.5 0 1 0 -15.0 0M597.37 1461.00a7.5 7.5 0 1 0 15.0 0a7.5 7.5 0 1 0 -15.0 0M606.53 1461.00a7.5 7.5 0 1 0 15.0 0a7.5 7.5 0 1 0 -15.0 0M615.70 1461.00a7.5 7.5 0 1 0 15.0 0a7.5 7.5 0 1 0 -15.0 0M624.87 1461.00a7.5 7.5 0 1 0 15.0 0a7.5 7.5 0 1 0 -15.0 0M634.04 1461.00a7.5 7.5 0 1 0 15.0 0a7.5 7.5 0 1 0 -15.0 0M643.20 1461.00a7.5 7.5 0 1 0 15.0 0a7.5 7.5 0 1 0 -15.0 0M652.37 1461.00a7.5 7.5 0 1 0 15.0 0a7.5 7.5 0 1 0 -15.0 0M661.54 1461.00a7.5 7.5 0 1 0 15.0 0a7.5 7.5 0 1 0 -15.0 0M670.70 1461.00a7.5 7.5 0 1 0 15.0 0a7.5 7.5 0 1 0 -15.0 0M679.87 1461.00a7.5 7.5 0 1 0 15.0 0a7.5 7.5 0 1 0 -15.0 0M689.04 1461.00a7.5 7.5 0 1 0 15.0 0a7.5 7.5 0 1 0 -15.0 0M698.21 1461.00a7.5 7.5 0 1 0 15.0 0a7.5 7.5 0 1 0 -15.0 0M707.38 1461.00a7.5 7.5 0 1 0 15.0 0a7.5 7.5 0 1 0 -15.0 0M716.54 1461.00a7.5 7.5 0 1 0 15.0 0a7.5 7.5 0 1 0 -15.0 0M725.71 1461.00a7.5 7.5 0 1 0 15.0 0a7.5 7.5 0 1 0 -15.0 0M734.88 1461.00a7.5 7.5 0 1 0 15.0 0a7.5 7.5 0 1 0 -15.0 0M744.05 1459.16a7.5 7.5 0 1 0 15.0 0a7.5 7.5 0 1 0 -15.0 0M753.21 1452.49a7.5 7.5 0 1 0 15.0 0a7.5 7.5 0 1 0 -15.0 0M762.38 1441.25a7.5 7.5 0 1 0 15.0 0a7.5 7.5 0 1 0 -15.0 0M771.55 1425.74a7.5 7.5 0 1 0 15.0 0a7.5 7.5 0 1 0 -15.0 0M780.71 1406.29a7.5 7.5 0 1 0 15.0 0a7.5 7.5 0 1 0 -15.0 0M789.88 1383.18a7.5 7.5 0 1 0 15.0 0a7.5 7.5 0 1 0 -15.0 0M799.05 1356.72a7.5 7.5 0 1 0 15.0 0a7.5 7.5 0 1 0 -15.0 0M808.22 1327.18a7.5 7.5 0 1 0 15.0 0a7.5 7.5 0 1 0 -15.0 0M817.38 1294.86a7.5 7.5 0 1 0 15.0 0a7.5 7.5 0 1 0 -15.0 0M826.55 1260.01a7.5 7.5 0 1 0 15.0 0a7.5 7.5 0 1 0 -15.0 0M835.72 1222.91a7.5 7.5 0 1 0 15.0 0a7.5 7.5 0 1 0 -15.0 0M844.89 1183.81a7.5 7.5 0 1 0 15.0 0a7.5 7.5 0 1 0 -15.0 0M854.05 1142.97a7.5 7.5 0 1 0 15.0 0a7.5 7.5 0 1 0 -15.0 0M863.22 1100.63a7.5 7.5 0 1 0 15.0 0a7.5 7.5 0 1 0 -15.0 0M872.39 1057.03a7.5 7.5 0 1 0 15.0 0a7.5 7.5 0 1 0 -15.0 0M881.56 1012.39a7.5 7.5 0 1 0 15.0 0a7.5 7.5 0 1 0 -15.0 0M890.72 966.93a7.5 7.5 0 1 0 15.0 0a7.5 7.5 0 1 0 -15.0 0M899.89 920.89a7.5 7.5 0 1 0 15.0 0a7.5 7.5 0 1 0 -15.0 0M909.06 874.45a7.5 7.5 0 1 0 15.0 0a7.5 7.5 0 1 0 -15.0 0M918.23 827.83a7.5 7.5 0 1 0 15.0 0a7.5 7.5 0 1 0 -15.0 0M927.39 781.22a7.5 7.5 0 1 0 15.0 0a7.5 7.5 0 1 0 -15.0 0M936.56 734.80a7.5 7.5 0 1 0 15.0 0a7.5 7.5 0 1 0 -15.0 0M945.73 688.77a7.5 7.5 0 1 0 15.0 0a7.5 7.5 0 1 0 -15.0 0M954.90 643.28a7.5 7.5 0 1 0 15.0 0a7.5 7.5 0 1 0 -15.0 0M964.07 598.50a7.5 7.5 0 1 0 15.0 0a7.5 7.5 0 1 0 -15.0 0M973.23 554.60a7.5 7.5 0 1 0 15.0 0a7.5 7.5 0 1 0 -15.0 0M982.40 511.73a7.5 7.5 0 1 0 15.0 0a7.5 7.5 0 1 0 -15.0 0M991.57 470.03a7.5 7.5 0 1 0 15.0 0a7.5 7.5 0 1 0 -15.0 0M1000.73 429.64a7.5 7.5 0 1 0 15.0 0a7.5 7.5 0 1 0 -15.0 0M1009.90 390.70a7.5 7.5 0 1 0 15.0 0a7.5 7.5 0 1 0 -15.0 0M1019.07 353.31a7.5 7.5 0 1 0 15.0 0a7.5 7.5 0 1 0 -15.0 0M1028.24 317.61a7.5 7.5 0 1 0 15.0 0a7.5 7.5 0 1 0 -15.0 0M1037.40 283.70a7.5 7.5 0 1 0 15.0 0a7.5 7.5 0 1 0 -15.0 0M1046.57 251.68a7.5 7.5 0 1 0 15.0 0a7.5 7.5 0 1 0 -15.0 0M1055.74 221.65a7.5 7.5 0 1 0 15.0 0a7.5 7.5 0 1 0 -15.0 0M1064.91 193.69a7.5 7.5 0 1 0 15.0 0a7.5 7.5 0 1 0 -15.0 0M1074.08 167.90a7.5 7.5 0 1 0 15.0 0a7.5 7.5 0 1 0 -15.0 0M1083.24 144.34a7.5 7.5 0 1 0 15.0 0a7.5 7.5 0 1 0 -15.0 0M1092.41 123.07a7.5 7.5 0 1 0 15.0 0a7.5 7.5 0 1 0 -15.0 0M1101.58 104.17a7.5 7.5 0 1 0 15.0 0a7.5 7.5 0 1 0 -15.0 0M1110.74 87.68a7.5 7.5 0 1 0 15.0 0a7.5 7.5 0 1 0 -15.0 0M1119.91 73.65a7.5 7.5 0 1 0 15.0 0a7.5 7.5 0 1 0 -15.0 0M1129.08 62.12a7.5 7.5 0 1 0 15.0 0a7.5 7.5 0 1 0 -15.0 0M1138.25 53.12a7.5 7.5 0 1 0 15.0 0a7.5 7.5 0 1 0 -15.0 0M1147.41 46.67a7.5 7.5 0 1 0 15.0 0a7.5 7.5 0 1 0 -15.0 0M1156.58 42.79a7.5 7.5 0 1 0 15.0 0a7.5 7.5 0 1 0 -15.0 0M1165.75 41.50a7.5 7.5 0 1 0 15.0 0a7.5 7.5 0 1 0 -15.0 0M1174.92 42.79a7.5 7.5 0 1 0 15.0 0a7.5 7.5 0 1 0 -15.0 0M1184.09 46.67a7.5 7.5 0 1 0 15.0 0a7.5 7.5 0 1 0 -15.0 0M1193.25 53.12a7.5 7.5 0 1 0 15.0 0a7.5 7.5 0 1 0 -15.0 0M1202.42 62.12a7.5 7.5 0 1 0 15.0 0a7.5 7.5 0 1 0 -15.0 0M1211.59 73.65a7.5 7.5 0 1 0 15.0 0a7.5 7.5 0 1 0 -15.0 0M1220.76 87.68a7.5 7.5 0 1 0 15.0 0a7.5 7.5 0 1 0 -15.0 0M1229.92 104.17a7.5 7.5 0 1 0 15.0 0a7.5 7.5 0 1 0 -15.0 0M1239.09 123.07a7.5 7.5 0 1 0 15.0 0a7.5 7.5 0 1 0 -15.0 0M1248.26 144.34a7.5 7.5 0 1 0 15.0 0a7.5 7.5 0 1 0 -15.0 0M1257.43 167.90a7.5 7.5 0 1 0 15.0 0a7.5 7.5 0 1 0 -15.0 0M1266.59 193.69a7.5 7.5 0 1 0 15.0 0a7.5 7.5 0 1 0 -15.0 0M1275.76 221.65a7.5 7.5 0 1 0 15.0 0a7.5 7.5 0 1 0 -15.0 0M1284.93 251.68a7.5 7.5 0 1 0 15.0 0a7.5 7.5 0 1 0 -15.0 0M1294.10 283.70a7.5 7.5 0 1 0 15.0 0a7.5 7.5 0 1 0 -15.0 0M1303.26 317.61a7.5 7.5 0 1 0 15.0 0a7.5 7.5 0 1 0 -15.0 0M1312.43 353.31a7.5 7.5 0 1 0 15.0 0a7.5 7.5 0 1 0 -15.0 0M1321.60 390.70a7.5 7.5 0 1 0 15.0 0a7.5 7.5 0 1 0 -15.0 0M1330.77 429.64a7.5 7.5 0 1 0 15.0 0a7.5 7.5 0 1 0 -15.0 0M1339.93 470.03a7.5 7.5 0 1 0 15.0 0a7.5 7.5 0 1 0 -15.0 0M1349.10 511.73a7.5 7.5 0 1 0 15.0 0a7.5 7.5 0 1 0 -15.0 0M1358.27 554.60a7.5 7.5 0 1 0 15.0 0a7.5 7.5 0 1 0 -15.0 0M1367.43 598.50a7.5 7.5 0 1 0 15.0 0a7.5 7.5 0 1 0 -15.0 0M1376.60 643.28a7.5 7.5 0 1 0 15.0 0a7.5 7.5 0 1 0 -15.0 0M1385.77 688.77a7.5 7.5 0 1 0 15.0 0a7.5 7.5 0 1 0 -15.0 0M1394.94 734.80a7.5 7.5 0 1 0 15.0 0a7.5 7.5 0 1 0 -15.0 0M1404.11 781.22a7.5 7.5 0 1 0 15.0 0a7.5 7.5 0 1 0 -15.0 0M1413.27 827.83a7.5 7.5 0 1 0 15.0 0a7.5 7.5 0 1 0 -15.0 0M1422.44 874.45a7.5 7.5 0 1 0 15.0 0a7.5 7.5 0 1 0 -15.0 0M1431.61 920.89a7.5 7.5 0 1 0 15.0 0a7.5 7.5 0 1 0 -15.0 0M1440.78 966.93a7.5 7.5 0 1 0 15.0 0a7.5 7.5 0 1 0 -15.0 0M1449.94 1012.39a7.5 7.5 0 1 0 15.0 0a7.5 7.5 0 1 0 -15.0 0M1459.11 1057.03a7.5 7.5 0 1 0 15.0 0a7.5 7.5 0 1 0 -15.0 0M1468.28 1100.63a7.5 7.5 0 1 0 15.0 0a7.5 7.5 0 1 0 -15.0 0M1477.45 1142.97a7.5 7.5 0 1 0 15.0 0a7.5 7.5 0 1 0 -15.0 0M1486.61 1183.81a7.5 7.5 0 1 0 15.0 0a7.5 7.5 0 1 0 -15.0 0M1495.78 1222.91a7.5 7.5 0 1 0 15.0 0a7.5 7.5 0 1 0 -15.0 0M1504.95 1260.01a7.5 7.5 0 1 0 15.0 0a7.5 7.5 0 1 0 -15.0 0M1514.12 1294.86a7.5 7.5 0 1 0 15.0 0a7.5 7.5 0 1 0 -15.0 0M1523.28 1327.18a7.5 7.5 0 1 0 15.0 0a7.5 7.5 0 1 0 -15.0 0M1532.45 1356.72a7.5 7.5 0 1 0 15.0 0a7.5 7.5 0 1 0 -15.0 0M1541.62 1383.18a7.5 7.5 0 1 0 15.0 0a7.5 7.5 0 1 0 -15.0 0M1550.78 1406.29a7.5 7.5 0 1 0 15.0 0a7.5 7.5 0 1 0 -15.0 0M1559.95 1425.74a7.5 7.5 0 1 0 15.0 0a7.5 7.5 0 1 0 -15.0 0M1569.12 1441.25a7.5 7.5 0 1 0 15.0 0a7.5 7.5 0 1 0 -15.0 0M1578.29 1452.49a7.5 7.5 0 1 0 15.0 0a7.5 7.5 0 1 0 -15.0 0M1587.45 1459.16a7.5 7.5 0 1 0 15.0 0a7.5 7.5 0 1 0 -15.0 0M1596.62 1461.00a7.5 7.5 0 1 0 15.0 0a7.5 7.5 0 1 0 -15.0 0M1605.79 1461.00a7.5 7.5 0 1 0 15.0 0a7.5 7.5 0 1 0 -15.0 0M1614.96 1461.00a7.5 7.5 0 1 0 15.0 0a7.5 7.5 0 1 0 -15.0 0M1624.12 1461.00a7.5 7.5 0 1 0 15.0 0a7.5 7.5 0 1 0 -15.0 0M1633.29 1461.00a7.5 7.5 0 1 0 15.0 0a7.5 7.5 0 1 0 -15.0 0M1642.46 1461.00a7.5 7.5 0 1 0 15.0 0a7.5 7.5 0 1 0 -15.0 0M1651.63 1461.00a7.5 7.5 0 1 0 15.0 0a7.5 7.5 0 1 0 -15.0 0M1660.80 1461.00a7.5 7.5 0 1 0 15.0 0a7.5 7.5 0 1 0 -15.0 0M1669.96 1461.00a7.5 7.5 0 1 0 15.0 0a7.5 7.5 0 1 0 -15.0 0M1679.13 1461.00a7.5 7.5 0 1 0 15.0 0a7.5 7.5 0 1 0 -15.0 0M1688.30 1461.00a7.5 7.5 0 1 0 15.0 0a7.5 7.5 0 1 0 -15.0 0M1697.47 1461.00a7.5 7.5 0 1 0 15.0 0a7.5 7.5 0 1 0 -15.0 0M1706.63 1461.00a7.5 7.5 0 1 0 15.0 0a7.5 7.5 0 1 0 -15.0 0M1715.80 1461.00a7.5 7.5 0 1 0 15.0 0a7.5 7.5 0 1 0 -15.0 0M1724.97 1461.00a7.5 7.5 0 1 0 15.0 0a7.5 7.5 0 1 0 -15.0 0M1734.13 1461.00a7.5 7.5 0 1 0 15.0 0a7.5 7.5 0 1 0 -15.0 0M1743.30 1461.00a7.5 7.5 0 1 0 15.0 0a7.5 7.5 0 1 0 -15.0 0M1752.47 1461.00a7.5 7.5 0 1 0 15.0 0a7.5 7.5 0 1 0 -15.0 0M1761.64 1461.00a7.5 7.5 0 1 0 15.0 0a7.5 7.5 0 1 0 -15.0 0M1770.81 1461.00a7.5 7.5 0 1 0 15.0 0a7.5 7.5 0 1 0 -15.0 0M1779.97 1461.00a7.5 7.5 0 1 0 15.0 0a7.5 7.5 0 1 0 -15.0 0M1789.14 1461.00a7.5 7.5 0 1 0 15.0 0a7.5 7.5 0 1 0 -15.0 0M1798.31 1461.00a7.5 7.5 0 1 0 15.0 0a7.5 7.5 0 1 0 -15.0 0M1807.47 1461.00a7.5 7.5 0 1 0 15.0 0a7.5 7.5 0 1 0 -15.0 0M1816.64 1461.00a7.5 7.5 0 1 0 15.0 0a7.5 7.5 0 1 0 -15.0 0M1825.81 1461.00a7.5 7.5 0 1 0 15.0 0a7.5 7.5 0 1 0 -15.0 0M1834.98 1461.00a7.5 7.5 0 1 0 15.0 0a7.5 7.5 0 1 0 -15.0 0M1844.14 1461.00a7.5 7.5 0 1 0 15.0 0a7.5 7.5 0 1 0 -15.0 0M1853.31 1461.00a7.5 7.5 0 1 0 15.0 0a7.5 7.5 0 1 0 -15.0 0M1862.48 1461.00a7.5 7.5 0 1 0 15.0 0a7.5 7.5 0 1 0 -15.0 0M1871.65 1461.00a7.5 7.5 0 1 0 15.0 0a7.5 7.5 0 1 0 -15.0 0M1880.82 1461.00a7.5 7.5 0 1 0 15.0 0a7.5 7.5 0 1 0 -15.0 0M1889.98 1461.00a7.5 7.5 0 1 0 15.0 0a7.5 7.5 0 1 0 -15.0 0M1899.15 1461.00a7.5 7.5 0 1 0 15.0 0a7.5 7.5 0 1 0 -15.0 0M1908.32 1461.00a7.5 7.5 0 1 0 15.0 0a7.5 7.5 0 1 0 -15.0 0M1917.48 1461.00a7.5 7.5 0 1 0 15.0 0a7.5 7.5 0 1 0 -15.0 0M1926.65 1461.00a7.5 7.5 0 1 0 15.0 0a7.5 7.5 0 1 0 -15.0 0M1935.82 1461.00a7.5 7.5 0 1 0 15.0 0a7.5 7.5 0 1 0 -15.0 0M1944.99 1461.00a7.5 7.5 0 1 0 15.0 0a7.5 7.5 0 1 0 -15.0 0M1954.16 1461.00a7.5 7.5 0 1 0 15.0 0a7.5 7.5 0 1 0 -15.0 0M1963.32 1461.00a7.5 7.5 0 1 0 15.0 0a7.5 7.5 0 1 0 -15.0 0M1972.49 1461.00a7.5 7.5 0 1 0 15.0 0a7.5 7.5 0 1 0 -15.0 0M1981.66 1461.00a7.5 7.5 0 1 0 15.0 0a7.5 7.5 0 1 0 -15.0 0M1990.82 1461.00a7.5 7.5 0 1 0 15.0 0a7.5 7.5 0 1 0 -15.0 0M1999.99 1461.00a7.5 7.5 0 1 0 15.0 0a7.5 7.5 0 1 0 -15.0 0M2009.16 1461.00a7.5 7.5 0 1 0 15.0 0a7.5 7.5 0 1 0 -15.0 0M2018.33 1461.00a7.5 7.5 0 1 0 15.0 0a7.5 7.5 0 1 0 -15.0 0M2027.49 1461.00a7.5 7.5 0 1 0 15.0 0a7.5 7.5 0 1 0 -15.0 0M2036.66 1461.00a7.5 7.5 0 1 0 15.0 0a7.5 7.5 0 1 0 -15.0 0M2045.83 1461.00a7.5 7.5 0 1 0 15.0 0a7.5 7.5 0 1 0 -15.0 0M2055.00 1461.00a7.5 7.5 0 1 0 15.0 0a7.5 7.5 0 1 0 -15.0 0M2064.16 1461.00a7.5 7.5 0 1 0 15.0 0a7.5 7.5 0 1 0 -15.0 0M2073.33 1461.00a7.5 7.5 0 1 0 15.0 0a7.5 7.5 0 1 0 -15.0 0M2082.50 1461.00a7.5 7.5 0 1 0 15.0 0a7.5 7.5 0 1 0 -15.0 0" fill="#4DBEEE"/>
<text x="254.50" y="1559.8" font-size="79" fill="#262626" stroke="#262626" stroke-width="0.7" text-anchor="middle">−10</text>
<text x="711.38" y="1559.8" font-size="79" fill="#262626" stroke="#262626" stroke-width="0.7" text-anchor="middle">−5</text>
<text x="1172.75" y="1559.8" font-size="79" fill="#262626" stroke="#262626" stroke-width="0.7" text-anchor="middle">0</text>
<text x="1631.12" y="1559.8" font-size="79" fill="#262626" stroke="#262626" stroke-width="0.7" text-anchor="middle">5</text>
<text x="2090.00" y="1559.8" font-size="79" fill="#262626" stroke="#262626" stroke-width="0.7" text-anchor="middle">10</text>
<text x="227.5" y="1485.60" font-size="79" fill="#262626" stroke="#262626" stroke-width="0.7" text-anchor="end">0</text>
<text x="225" y="1201.70" font-size="79" fill="#262626" stroke="#262626" stroke-width="0.7" text-anchor="end">0.2</text>
<text x="225" y="917.80" font-size="79" fill="#262626" stroke="#262626" stroke-width="0.7" text-anchor="end">0.4</text>
<text x="225" y="633.90" font-size="79" fill="#262626" stroke="#262626" stroke-width="0.7" text-anchor="end">0.6</text>
<text x="225" y="350.00" font-size="79" fill="#262626" stroke="#262626" stroke-width="0.7" text-anchor="end">0.8</text>
<text x="225" y="66.10" font-size="79" fill="#262626" stroke="#262626" stroke-width="0.7" text-anchor="end">1</text>
<text x="1172.0" y="1663.3" font-size="83.7" fill="#262626" stroke="#262626" stroke-width="0.4" text-anchor="middle">Standardized residual/m</text>
<text transform="translate(88.5 755.2) rotate(-90)" x="0" y="0" font-size="83.7" fill="#262626" stroke="#262626" stroke-width="0.4" text-anchor="middle">Weight factor</text>
<rect x="1424.0" y="41.5" width="666.0" height="484.0" fill="#fff" stroke="#262626" stroke-width="11.5" shape-rendering="crispEdges"/>
<path d="M1444 89.00H1602" stroke="#0072BD" stroke-width="8.0" fill="none" shape-rendering="crispEdges"/>
<text x="1616.6" y="110.70" font-size="63" fill="#000" stroke="#000" stroke-width="0.6">Andrews function</text>
<path d="M1444 166.60H1602" stroke="#D95319" stroke-width="8.0" stroke-dasharray="25 23" fill="none" shape-rendering="crispEdges"/>
<text x="1616.6" y="188.20" font-size="63" fill="#000" stroke="#000" stroke-width="0.6">Danish function</text>
<path d="M1444 244.20H1602" stroke="#EDB120" stroke-width="8.0" stroke-dasharray="7 5" fill="none" shape-rendering="crispEdges"/>
<text x="1616.6" y="265.70" font-size="63" fill="#000" stroke="#000" stroke-width="0.6">Hampel function</text>
<path d="M1444 321.80H1602" stroke="#7E2F8E" stroke-width="8.0" stroke-dasharray="25 5 13 5" fill="none" shape-rendering="crispEdges"/>
<text x="1616.6" y="343.20" font-size="63" fill="#000" stroke="#000" stroke-width="0.6">Huber function</text>
<path d="M1444 399.40H1602" stroke="#77AC30" stroke-width="8.0" fill="none" shape-rendering="crispEdges"/>
<circle cx="1523" cy="399.40" r="7.5" fill="#77AC30"/>
<text x="1616.6" y="420.70" font-size="63" fill="#000" stroke="#000" stroke-width="0.6">IGGIII function</text>
<path d="M1444 477.00H1602" stroke="#4DBEEE" stroke-width="8.0" stroke-dasharray="25 23" fill="none" shape-rendering="crispEdges"/>
<circle cx="1523" cy="477.00" r="7.5" fill="#4DBEEE"/>
<text x="1616.6" y="498.20" font-size="63" fill="#000" stroke="#000" stroke-width="0.6">Tukey function</text>
</svg>
</body></html>
